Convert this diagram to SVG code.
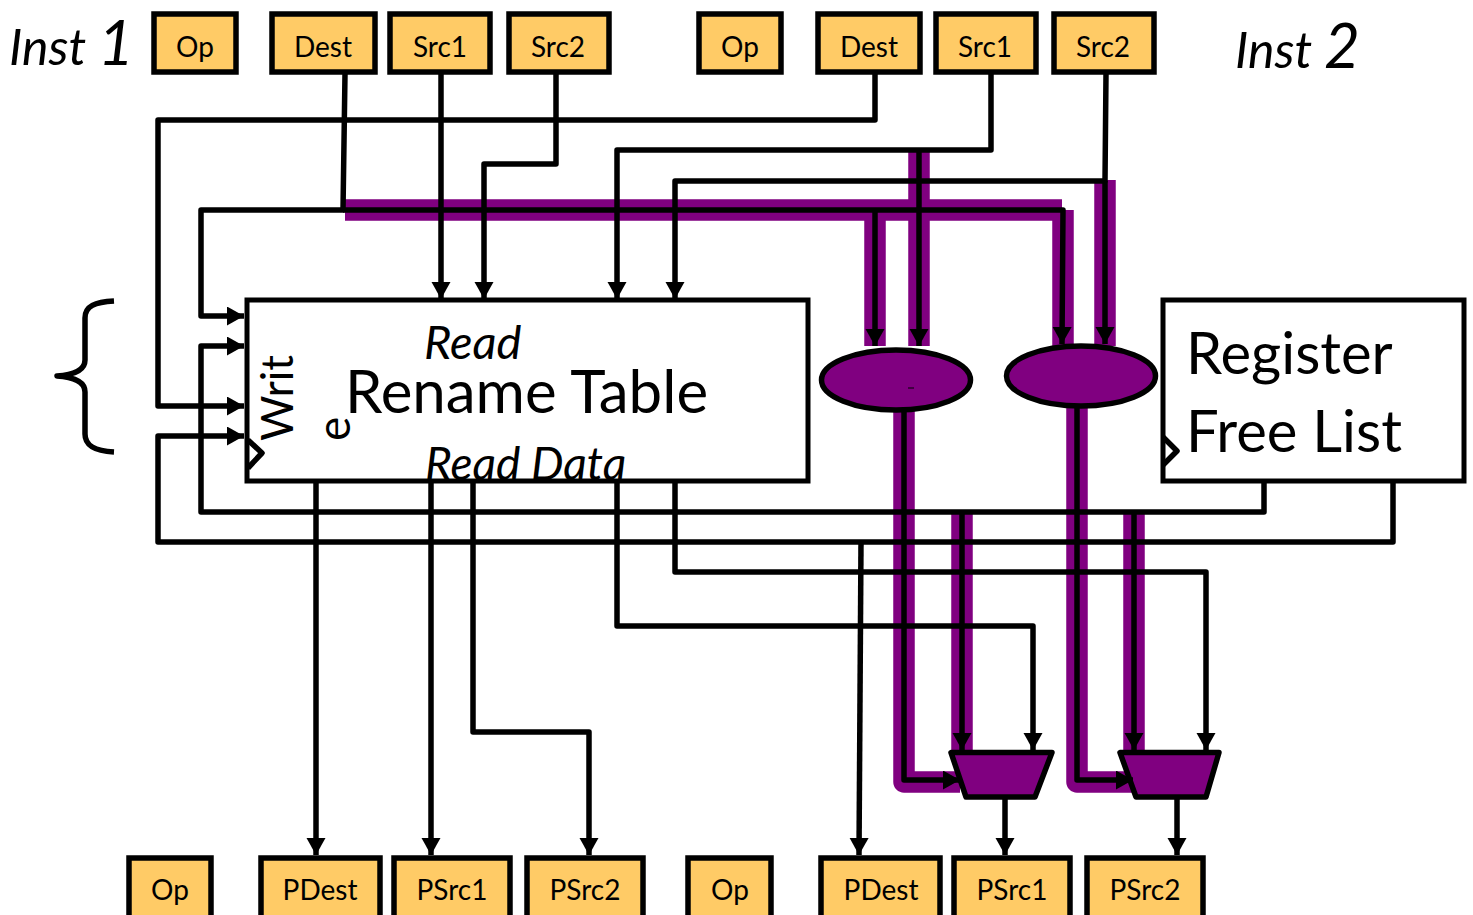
<svg xmlns="http://www.w3.org/2000/svg" width="1473" height="915" viewBox="0 0 1473 915">
<style>
text{font-family:"Lato","Open Sans","Liberation Sans",sans-serif;fill:#000}
.reg{fill:#ffcb66;stroke:#000;stroke-width:5.500}
.t{font-size:28px;text-anchor:middle}
.big{font-size:58px}
.it{font-style:italic}
.box{fill:#fff;stroke:#000;stroke-width:5}
.pu{fill:#800080;stroke:#000;stroke-width:5.500;stroke-linejoin:round}
.w{fill:none;stroke:#000;stroke-width:5.500;stroke-linejoin:round}
.a{marker-end:url(#ah)}
.band{fill:none;stroke:#800080;stroke-width:21.500;stroke-linejoin:round}
</style>
<defs><marker id="ah" markerUnits="userSpaceOnUse" markerWidth="18" markerHeight="20" refX="17" refY="9.500" orient="auto"><path d="M0,0L17,9.500L0,19z" fill="#000"/></marker></defs>
<rect width="1473" height="915" fill="#fff"/>
<g id="bands">
<path class="band" d="M345,210H1062M1063,210V346M875,210V346M919,151V346M1105,180V346"/>
<path class="band" d="M904,410V782H960M1077,406V782H1135M962,512V752M1134,512V752"/>
</g>
<g id="rename-table"><rect class="box" x="247" y="300" width="561" height="181"/>
<path class="w" d="M248,440L262,453L248,468"/>
<text font-size="60" x="345" y="413">Rename Table</text>
<text class="it" font-size="47" x="424" y="359">Read</text>
<text class="it" font-size="46" x="425" y="480">Read Data</text>
<text font-size="44" transform="translate(293,441) rotate(-90)">Writ</text>
<text font-size="46" transform="translate(350,441) rotate(-90)">e</text></g>
<g id="free-list"><rect class="box" x="1163" y="300" width="301" height="181"/>
<path class="w" d="M1163,437L1177,451L1163,465"/>
<text class="big" x="1186" y="374">Register</text>
<text class="big" x="1186" y="452">Free List</text></g>
<g id="cmp1"><ellipse class="pu" cx="896" cy="380" rx="74.500" ry="30"/><path d="M908,388H914" stroke="#000" stroke-width="1"/></g>
<ellipse id="cmp2" class="pu" cx="1081" cy="376" rx="74.500" ry="30"/>
<polygon id="mux1" class="pu" points="951,752.500 1052,752.500 1035,797 966,797"/>
<polygon id="mux2" class="pu" points="1120,752.500 1219,752.500 1206,797 1136,797"/>
<g id="connectors">
<path class="w a" d="M345,74L343,210H201V316H244"/>
<path class="w a" d="M875,74V120H158V406H244"/>
<path class="w a" d="M441,74V299"/>
<path class="w a" d="M556,74V164H484V299"/>
<path class="w a" d="M991,74V150H617V299"/>
<path class="w a" d="M1106,74L1105,181H675V299"/>
<path class="w a" d="M343,210H1063L1062,344"/>
<path class="w a" d="M875,210V346"/>
<path class="w a" d="M919,151V346"/>
<path class="w a" d="M1105,181V344"/>
<path class="w a" d="M904,408V780H960"/>
<path class="w a" d="M1077,404V780H1133"/>
<path class="w a" d="M1264,481V512H201V346H244"/>
<path class="w a" d="M1393,481V542H158V436H244"/>
<path class="w a" d="M861,542L859,855"/>
<path class="w a" d="M316,481V855"/>
<path class="w a" d="M431,481V855"/>
<path class="w a" d="M473,481V732H589V855"/>
<path class="w a" d="M617,481V626H1033V750"/>
<path class="w a" d="M675,481V572H1206V750"/>
<path class="w a" d="M962,512V750"/>
<path class="w a" d="M1134,512V750"/>
<path class="w a" d="M1005,797V855"/>
<path class="w a" d="M1177,797V855"/>
</g>
<g id="brace"><path class="w" d="M114,301C95,302 85,306 85,318V360C85,371 72,375 57,376C72,377 85,381 85,392V434C85,446 95,451 114,452"/></g>
<text id="inst1" x="9" y="65" font-size="50" font-style="italic">Inst <tspan font-size="62">1</tspan></text>
<text id="inst2" x="1235" y="68" font-size="50" font-style="italic">Inst <tspan font-size="62">2</tspan></text>
<g id="top-op1"><rect class="reg" x="154" y="14" width="82" height="58"/><text class="t" x="195" y="57">Op</text></g>
<g id="top-dest1"><rect class="reg" x="272" y="14" width="103" height="58"/><text class="t" x="323" y="57">Dest</text></g>
<g id="top-src11"><rect class="reg" x="390" y="14" width="100" height="58"/><text class="t" x="440" y="57">Src1</text></g>
<g id="top-src21"><rect class="reg" x="509" y="14" width="100" height="58"/><text class="t" x="558" y="57">Src2</text></g>
<g id="top-op2"><rect class="reg" x="699" y="14" width="82" height="58"/><text class="t" x="740" y="57">Op</text></g>
<g id="top-dest2"><rect class="reg" x="818" y="14" width="102" height="58"/><text class="t" x="869" y="57">Dest</text></g>
<g id="top-src12"><rect class="reg" x="936" y="14" width="100" height="58"/><text class="t" x="985" y="57">Src1</text></g>
<g id="top-src22"><rect class="reg" x="1054" y="14" width="100" height="58"/><text class="t" x="1103" y="57">Src2</text></g>
<g id="bot-op1"><rect class="reg" x="129" y="858" width="82" height="70"/><text class="t" x="170" y="900">Op</text></g>
<g id="bot-pdest1"><rect class="reg" x="261" y="858" width="119" height="70"/><text class="t" x="320" y="900">PDest</text></g>
<g id="bot-psrc11"><rect class="reg" x="394" y="858" width="116" height="70"/><text class="t" x="452" y="900">PSrc1</text></g>
<g id="bot-psrc21"><rect class="reg" x="527" y="858" width="116" height="70"/><text class="t" x="585" y="900">PSrc2</text></g>
<g id="bot-op2"><rect class="reg" x="688" y="858" width="83" height="70"/><text class="t" x="730" y="900">Op</text></g>
<g id="bot-pdest2"><rect class="reg" x="821" y="858" width="119" height="70"/><text class="t" x="881" y="900">PDest</text></g>
<g id="bot-psrc12"><rect class="reg" x="954" y="858" width="116" height="70"/><text class="t" x="1012" y="900">PSrc1</text></g>
<g id="bot-psrc22"><rect class="reg" x="1087" y="858" width="116" height="70"/><text class="t" x="1145" y="900">PSrc2</text></g>
</svg>
